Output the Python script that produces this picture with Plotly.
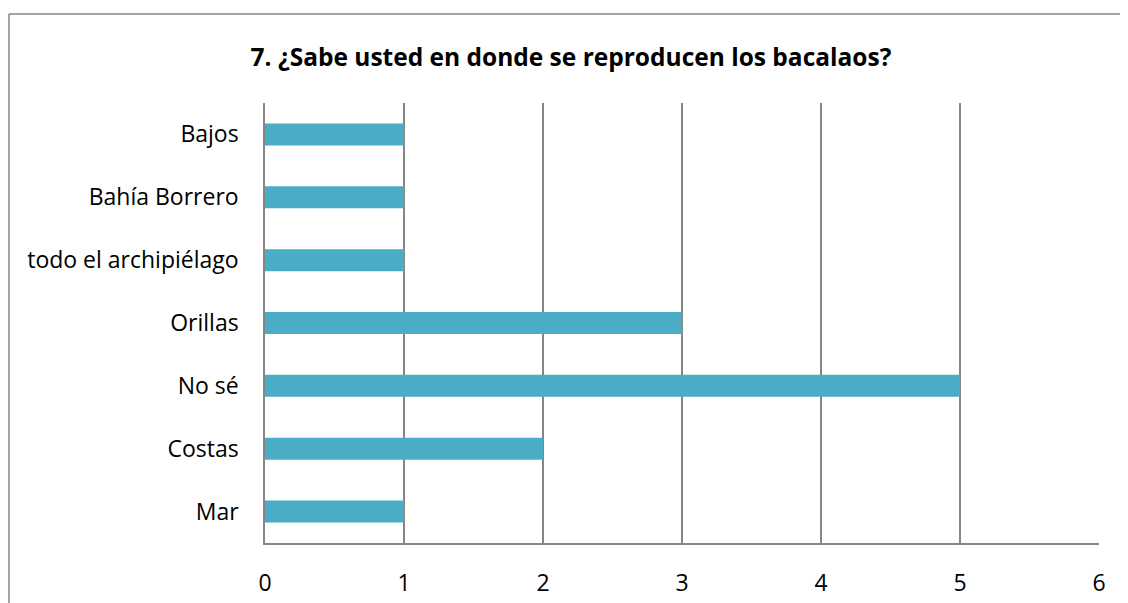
import plotly.graph_objects as go

# Data
categories = ["Mar", "Costas", "No sé", "Orillas", "todo el archipiélago", "Bahía Borrero", "Bajos"]
counts = [1, 2, 5, 3, 1, 1, 1]
x_ticks = [0, 1, 2, 3, 4, 5, 6]

title_text = "7. ¿Sabe usted en donde se reproducen los bacalaos?"

fig = go.Figure()

fig.add_trace(go.Bar(
    x=counts,
    y=categories,
    orientation="h",
    width=0.35,
    marker=dict(color="#4BACC6", line=dict(width=0)),
    showlegend=False
))

# chart frame: top and left edges
frame = dict(color="#868686", width=1.5)
frame_top = 1 + 89 / 440
frame_left = -256 / 834

# the page adds an 8px body margin, so margins are shifted by that amount
fig.update_layout(
    width=1128,
    height=603,
    paper_bgcolor="white",
    plot_bgcolor="white",
    font=dict(family="'Open Sans', Lato, sans-serif", size=23, color="#000000"),
    title=dict(
        text="<b>" + title_text + "</b>",
        x=563 / 1128,
        xanchor="center",
        y=1 - 49 / 603,
        yanchor="middle",
        font=dict(size=24.5, color="#000000")
    ),
    margin=dict(l=257, r=37, t=95, b=68),
    xaxis=dict(
        range=[0, 6],
        tickvals=x_ticks,
        showgrid=True,
        gridcolor="#868686",
        gridwidth=1.5,
        showline=True,
        linecolor="#868686",
        linewidth=1.5,
        zeroline=False,
        ticks="",
        ticklabelstandoff=19
    ),
    yaxis=dict(
        categoryorder="array",
        categoryarray=categories,
        showline=True,
        linecolor="#868686",
        linewidth=1.5,
        showgrid=False,
        ticks="",
        ticklabelstandoff=20
    ),
    shapes=[
        dict(type="line", xref="paper", yref="paper",
             x0=frame_left, x1=1.5, y0=frame_top, y1=frame_top,
             line=frame, layer="below"),
        dict(type="line", xref="paper", yref="paper",
             x0=frame_left, x1=frame_left, y0=-0.5, y1=frame_top,
             line=frame, layer="below"),
    ]
)

fig.write_html("out.html")
